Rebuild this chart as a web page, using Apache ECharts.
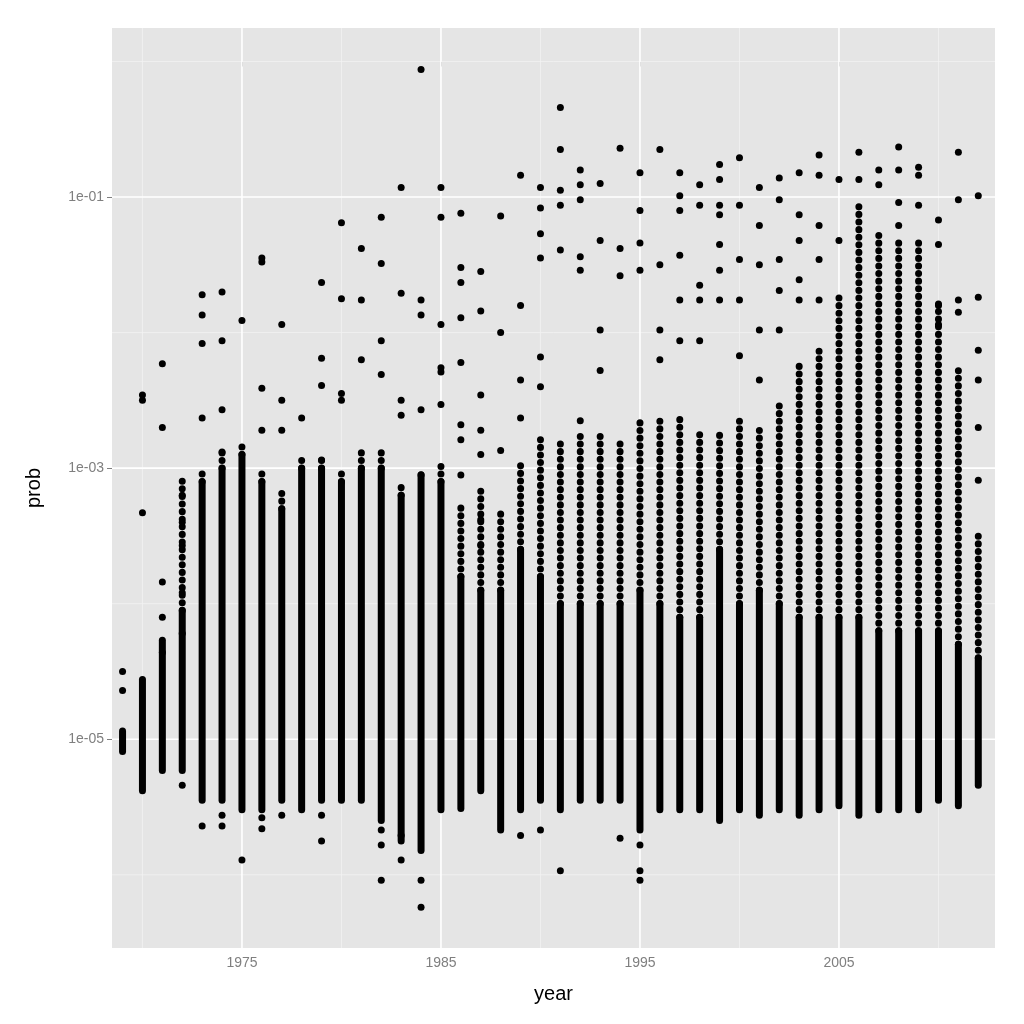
<!DOCTYPE html>
<html><head><meta charset="utf-8">
<script src="https://cdn.jsdelivr.net/npm/echarts@6/dist/echarts.min.js"></script>
<style>html,body{margin:0;padding:0;background:#fff}#c{width:1024px;height:1024px}</style>
</head><body><div id="c"></div>
<script>
// values are log10(prob)
const years = [];
for (let y = 1969; y <= 2012; y++) years.push(y);
// dense range of each year's column [low, high]
const rangeLow = [-5.09,-5.38,-5.23,-5.23,-5.45,-5.45,-5.52,-5.52,-5.45,-5.52,-5.45,-5.45,-5.45,-5.60,-5.75,-5.82,-5.52,-5.51,-5.38,-5.67,-5.52,-5.45,-5.52,-5.45,-5.45,-5.45,-5.67,-5.52,-5.52,-5.52,-5.60,-5.52,-5.56,-5.52,-5.56,-5.52,-5.49,-5.56,-5.52,-5.52,-5.52,-5.45,-5.49,-5.34];
const rangeHigh = [-4.94,-4.56,-4.27,-3.07,-3.01,-2.87,-2.79,-3.01,-3.16,-2.90,-2.90,-3.01,-2.87,-2.87,-3.09,-3.01,-2.98,-3.24,-3.16,-3.31,-2.94,-2.79,-2.79,-2.72,-2.72,-2.79,-2.65,-2.61,-2.61,-2.72,-2.72,-2.65,-2.72,-2.50,-2.20,-2.13,-1.69,-1.02,-1.24,-1.32,-1.32,-1.76,-2.28,-3.46];
// top of the solid (fully overlapping) part of each column
const solidHigh = [-4.94,-4.56,-4.27,-4.05,-3.10,-3.00,-2.90,-3.10,-3.30,-3.00,-3.00,-3.10,-3.00,-3.00,-3.20,-3.05,-3.10,-3.80,-3.90,-3.90,-3.60,-3.80,-4.00,-4.00,-4.00,-4.00,-3.90,-4.00,-4.10,-4.10,-3.60,-4.00,-3.90,-4.00,-4.10,-4.10,-4.10,-4.10,-4.20,-4.20,-4.20,-4.20,-4.30,-4.40];
// extra separate points per year
const sparse = [
 [-4.50,-4.64],[-2.46,-2.50,-3.33],[-2.23,-2.70,-3.84,-4.10,-4.36],[-3.57,-3.20,-3.40,-3.92,-4.22,-5.34],
 [-1.72,-1.87,-2.08,-2.63,-5.64],[-1.70,-2.06,-2.57,-2.88,-5.56,-5.64],[-1.91,-5.89],[-1.45,-1.48,-2.41,-2.72,-5.58,-5.66],
 [-1.94,-2.50,-2.72,-5.56],[-2.63],[-1.63,-2.19,-2.39,-2.94,-5.56,-5.75],[-1.19,-1.75,-2.45,-2.50],
 [-1.38,-1.76,-2.20],[-1.15,-1.49,-2.06,-2.31,-5.67,-5.78,-6.04],[-0.93,-1.71,-2.50,-2.61,-5.71,-5.89],[-0.06,-1.76,-1.87,-2.57,-6.04,-6.24],
 [-0.93,-1.15,-1.94,-2.26,-2.29,-2.53],[-1.12,-1.52,-1.63,-1.89,-2.22,-2.68,-2.79,-3.05],[-1.55,-1.84,-2.46,-2.72,-2.90,-3.38,-3.57],[-1.14,-2.00,-2.87],
 [-0.84,-1.80,-2.35,-2.63,-5.71],[-0.93,-1.08,-1.27,-1.45,-2.18,-2.40,-5.67],[-0.34,-0.65,-0.95,-1.06,-1.39,-5.97],[-0.80,-0.91,-1.02,-1.44,-1.54,-2.65],
 [-0.90,-1.32,-1.98,-2.28],[-0.64,-1.38,-1.58,-5.73],[-0.82,-1.10,-1.34,-1.54,-5.78,-5.97,-6.04],[-0.65,-1.50,-1.98,-2.20],
 [-0.82,-0.99,-1.10,-1.43,-1.76,-2.06],[-0.91,-1.06,-1.65,-1.76,-2.06],[-0.76,-0.87,-1.06,-1.13,-1.35,-1.54,-1.76],[-0.71,-1.06,-1.46,-1.76,-2.17],
 [-0.93,-1.21,-1.50,-1.98,-2.35],[-0.86,-1.02,-1.46,-1.69,-1.98],[-0.82,-1.13,-1.32,-1.61,-1.76],[-0.69,-0.84,-1.21,-1.46,-1.76],
 [-0.87,-1.32],[-0.67,-0.87],[-0.80,-0.91],[-0.63,-0.80,-1.04,-1.21],
 [-0.78,-0.84,-1.06],[-1.17,-1.35,-1.80,-1.94],[-0.67,-1.02,-1.76,-1.85],[-0.99,-1.74,-2.13,-2.35,-2.70,-3.09]
];
const yTicks = [-5, -3, -1];
const yLabels = {'-5':'1e-05','-3':'1e-03','-1':'1e-01'};

const points = [];
years.forEach((y,i)=>sparse[i].forEach(v=>points.push([y,v])));
const segs = years.map((y,i)=>[y, rangeLow[i], rangeHigh[i], solidHigh[i]]);

const chart = echarts.init(document.getElementById('c'));
chart.setOption({
  backgroundColor:'#ffffff',
  animation:false,
  grid:{left:112, right:29, top:28, bottom:76, backgroundColor:'#E5E5E5', show:true, borderWidth:0},
  xAxis:{type:'value', min:1968.47, max:2012.84, interval:10,
    name:'year', nameLocation:'middle', nameGap:36, nameTextStyle:{fontSize:20, color:'#000', fontFamily:'Liberation Sans'},
    axisLine:{show:false}, axisTick:{show:true, length:5, lineStyle:{color:'#7f7f7f'}, customValues:[1975,1985,1995,2005]},
    axisLabel:{color:'#7f7f7f', fontSize:14, fontFamily:'Liberation Sans', customValues:[1975,1985,1995,2005], formatter:v=>String(v)},
    splitLine:{show:false}, minorTick:{show:false}},
  yAxis:{type:'value', min:-6.54, max:0.247,
    name:'prob', nameLocation:'middle', nameGap:68, nameRotate:90, nameTextStyle:{fontSize:20, color:'#000', fontFamily:'Liberation Sans'},
    axisLine:{show:false}, axisTick:{show:true, length:5, lineStyle:{color:'#7f7f7f'}, customValues:yTicks},
    axisLabel:{color:'#7f7f7f', fontSize:14, fontFamily:'Liberation Sans', customValues:yTicks, formatter:v=>yLabels[String(Math.round(v))]},
    splitLine:{show:false}},
  series:[
    {type:'custom', silent:true, z:1, data:[1970,1980,1990,2000,2010].map(v=>[v]),
     renderItem:(p,api)=>{const a=api.coord([api.value(0),-6.54]),b=api.coord([api.value(0),0.247]);
       return {type:'line',shape:{x1:a[0],y1:a[1],x2:b[0],y2:b[1]},style:{stroke:'#F2F2F2',lineWidth:0.8}};}},
    {type:'custom', silent:true, z:1, data:[-6,-4,-2,0].map(v=>[v]),
     renderItem:(p,api)=>{const a=api.coord([1968.47,api.value(0)]),b=api.coord([2012.84,api.value(0)]);
       return {type:'line',shape:{x1:a[0],y1:a[1],x2:b[0],y2:b[1]},style:{stroke:'#F2F2F2',lineWidth:0.8}};}},
    {type:'custom', silent:true, z:1, data:[1975,1985,1995,2005].map(v=>[v]),
     renderItem:(p,api)=>{const a=api.coord([api.value(0),-6.54]),b=api.coord([api.value(0),0.247]);
       return {type:'line',shape:{x1:a[0],y1:a[1],x2:b[0],y2:b[1]},style:{stroke:'#fff',lineWidth:1.6}};}},
    {type:'custom', silent:true, z:1, data:yTicks.map(v=>[v]),
     renderItem:(p,api)=>{const a=api.coord([1968.47,api.value(0)]),b=api.coord([2012.84,api.value(0)]);
       return {type:'line',shape:{x1:a[0],y1:a[1],x2:b[0],y2:b[1]},style:{stroke:'#fff',lineWidth:1.6}};}},
    {type:'custom', z:3, data:segs,
     renderItem:(p,api)=>{
       const x=api.value(0), lo=api.coord([x,api.value(1)]), hi=api.coord([x,api.value(2)]), sh=api.coord([x,api.value(3)]);
       const children=[{type:'line',shape:{x1:lo[0],y1:lo[1],x2:sh[0],y2:sh[1]},style:{stroke:'#000',lineWidth:7,lineCap:'round'}}];
       if (hi[1] < sh[1]-2) children.push({type:'line',shape:{x1:sh[0],y1:sh[1],x2:hi[0],y2:hi[1]},style:{stroke:'#000',lineWidth:7,lineCap:'round',lineDash:[0.1,7.5]}});
       return {type:'group',children};
     }},
    {type:'scatter', z:4, symbolSize:7, itemStyle:{color:'#000', opacity:1}, data:points}
  ]
});
</script></body></html>
